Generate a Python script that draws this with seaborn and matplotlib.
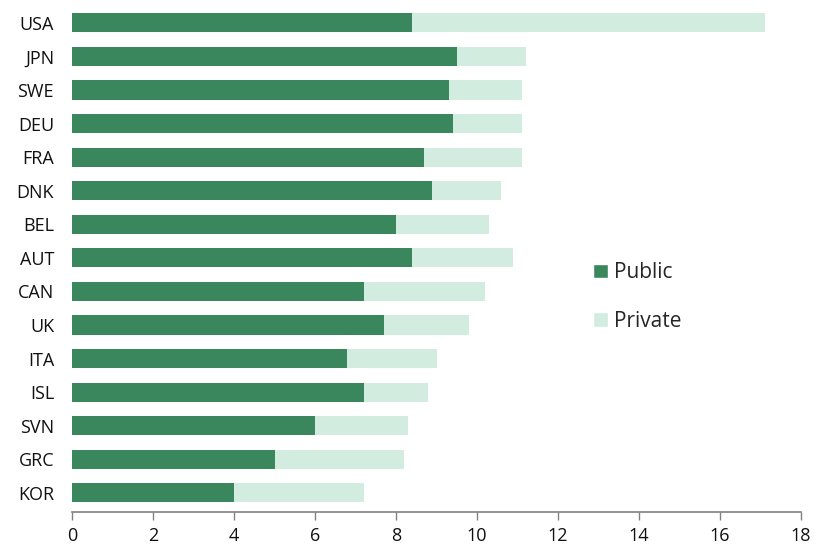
import pandas as pd
import matplotlib.pyplot as plt
import seaborn as sns
from matplotlib.patches import Patch

sns.set_theme(style='white')
plt.rcParams['font.family'] = ['Open Sans', 'DejaVu Sans']

# 数据
countries = ['USA', 'JPN', 'SWE', 'DEU', 'FRA', 'DNK', 'BEL', 'AUT',
             'CAN', 'UK', 'ITA', 'ISL', 'SVN', 'GRC', 'KOR']
public = [8.4, 9.5, 9.3, 9.4, 8.7, 8.9, 8.0, 8.4, 7.2, 7.7, 6.8, 7.2, 6.0, 5.0, 4.0]
private = [8.7, 1.7, 1.8, 1.7, 2.4, 1.7, 2.3, 2.5, 3.0, 2.1, 2.2, 1.6, 2.3, 3.2, 3.2]

df = pd.DataFrame({'country': countries, 'Public': public, 'Private': private})
df['Total'] = df['Public'] + df['Private']

dark = '#3a875d'
light = '#d2ece0'

fig = plt.figure(figsize=(8.19, 5.44), dpi=100)
ax = fig.add_axes([0.088, 0.059, 0.89, 0.936])

# 先画总量（浅色），再叠加公共部分（深色）
sns.barplot(data=df, y='country', x='Total', color=light, width=0.57,
            orient='h', saturation=1, ax=ax, edgecolor='none')
sns.barplot(data=df, y='country', x='Public', color=dark, width=0.57,
            orient='h', saturation=1, ax=ax, edgecolor='none')

ax.set_xlim(0, 18)
ax.set_ylim(14.57, -0.6)
ax.set_xticks(range(0, 19, 2))
ax.set_xlabel('')
ax.set_ylabel('')

for s in ['top', 'right', 'left']:
    ax.spines[s].set_visible(False)
ax.spines['bottom'].set_color('#808080')
ax.spines['bottom'].set_linewidth(1.2)
ax.tick_params(axis='x', bottom=True, length=6, width=1, color='#808080',
               labelsize=13, pad=5, labelcolor='#111111')
ax.tick_params(axis='y', left=False, labelsize=13, pad=7, labelcolor='#111111')

handles = [Patch(facecolor=dark, label='Public'),
           Patch(facecolor=light, label='Private')]
ax.legend(handles=handles, loc='center left', bbox_to_anchor=(0.715, 0.422),
          frameon=False, fontsize=15, handlelength=0.7, handleheight=0.7,
          handletextpad=0.3, labelspacing=1.3, borderpad=0, borderaxespad=0)

plt.savefig('out.png', dpi=100)
